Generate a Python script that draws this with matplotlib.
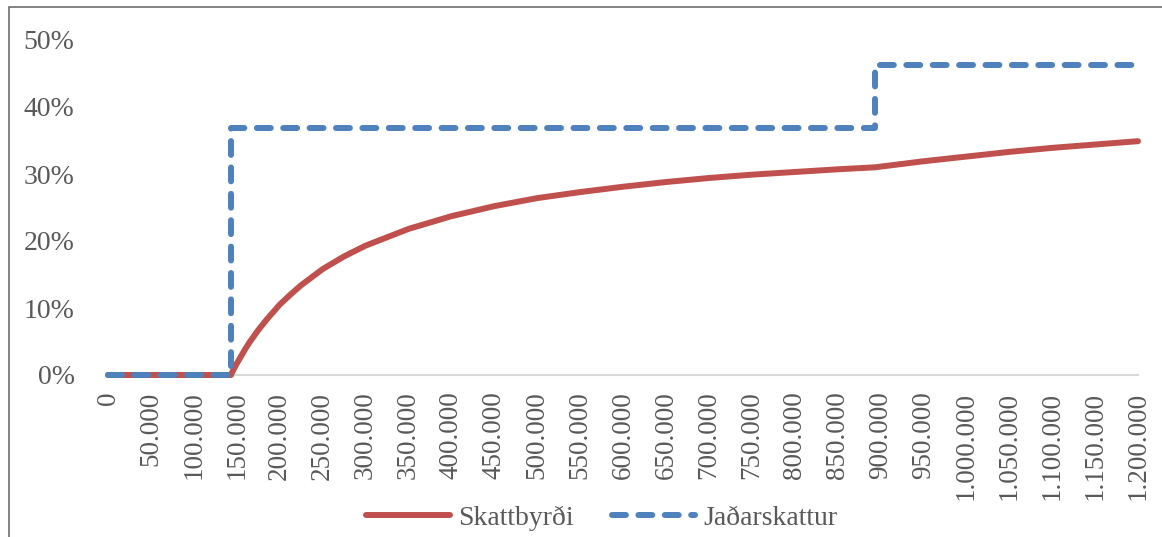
import matplotlib
matplotlib.use('Agg')
import matplotlib.pyplot as plt
from matplotlib.patches import Rectangle
from matplotlib.ticker import FuncFormatter, MultipleLocator

plt.rcParams['font.family'] = ['Liberation Serif', 'DejaVu Serif']
plt.rcParams['lines.scale_dashes'] = False

# Mánaðartekjur (kr.)
tekjur = [0, 50000, 100000, 143224, 145000, 150000, 155000, 160000, 165000, 175000,
          185000, 200000, 212500, 225000, 250000, 275000, 300000, 350000, 400000,
          450000, 500000, 550000, 600000, 650000, 700000, 750000, 800000, 850000,
          893713, 950000, 1000000, 1050000, 1100000, 1150000, 1200000]
# Skattbyrði lesin af myndinni
skattbyrdi = [0.0, 0.0, 0.0, 0.0, 0.005, 0.017, 0.028, 0.039, 0.049, 0.067,
              0.083, 0.105, 0.120, 0.134, 0.158, 0.177, 0.193, 0.218, 0.237,
              0.252, 0.264, 0.273, 0.281, 0.288, 0.294, 0.299, 0.303, 0.307,
              0.310, 0.319, 0.326, 0.333, 0.339, 0.344, 0.349]

# Jaðarskattur (þrep)
jadar_x = [0, 143224, 143224, 893713, 893713, 1200000]
jadar_y = [0.0, 0.0, 0.3694, 0.3694, 0.4624, 0.4624]

RED = '#C0504D'
BLUE = '#4F81BD'
TXT = '#595959'

fig = plt.figure(figsize=(11.62, 5.37), dpi=100)
ax = fig.add_axes([108 / 1162, 162 / 537, 1030 / 1162, 335 / 537])

ax.plot(tekjur, skattbyrdi, color=RED, lw=4.3, solid_capstyle='round',
        solid_joinstyle='round', label='Skattbyrði', clip_on=False, zorder=3)
ax.plot(jadar_x, jadar_y, color=BLUE, lw=4.3, dashes=(10, 9),
        dash_capstyle='round', dash_joinstyle='round', label='Jaðarskattur',
        clip_on=False, zorder=4)

ax.set_xlim(0, 1200000)
ax.set_ylim(0, 0.5)
ax.xaxis.set_major_locator(MultipleLocator(50000))
ax.yaxis.set_major_locator(MultipleLocator(0.1))
ax.xaxis.set_major_formatter(FuncFormatter(lambda v, p: f'{int(round(v)):,}'.replace(',', '.')))
ax.yaxis.set_major_formatter(FuncFormatter(lambda v, p: f'{v * 100:.0f}%'))

for s in ['top', 'right', 'left']:
    ax.spines[s].set_visible(False)
ax.spines['bottom'].set_color('#D9D9D9')
ax.spines['bottom'].set_linewidth(1.5)
ax.spines['bottom'].set_zorder(1)

ax.tick_params(axis='y', length=0, labelsize=20, colors=TXT, pad=24)
ax.tick_params(axis='x', length=0, labelsize=19.5, colors=TXT, pad=12)
for lbl in ax.get_xticklabels():
    lbl.set_rotation(90)
    lbl.set_va('top')
    lbl.set_ha('center')

leg = fig.legend(loc='center', bbox_to_anchor=(602 / 1162, 1 - 518 / 537), ncol=2,
                 frameon=False, fontsize=20, handlelength=3.0, handletextpad=0.3,
                 columnspacing=1.38)
for t in leg.get_texts():
    t.set_color(TXT)

# rammi utan um myndina
fig.patches.append(Rectangle((9 / 1162, -0.1), 1.2, 1 - 7 / 537 + 0.1,
                             transform=fig.transFigure, fill=False,
                             edgecolor='#6E6E6E', lw=1.2))

fig.savefig('out.png', dpi=100)
